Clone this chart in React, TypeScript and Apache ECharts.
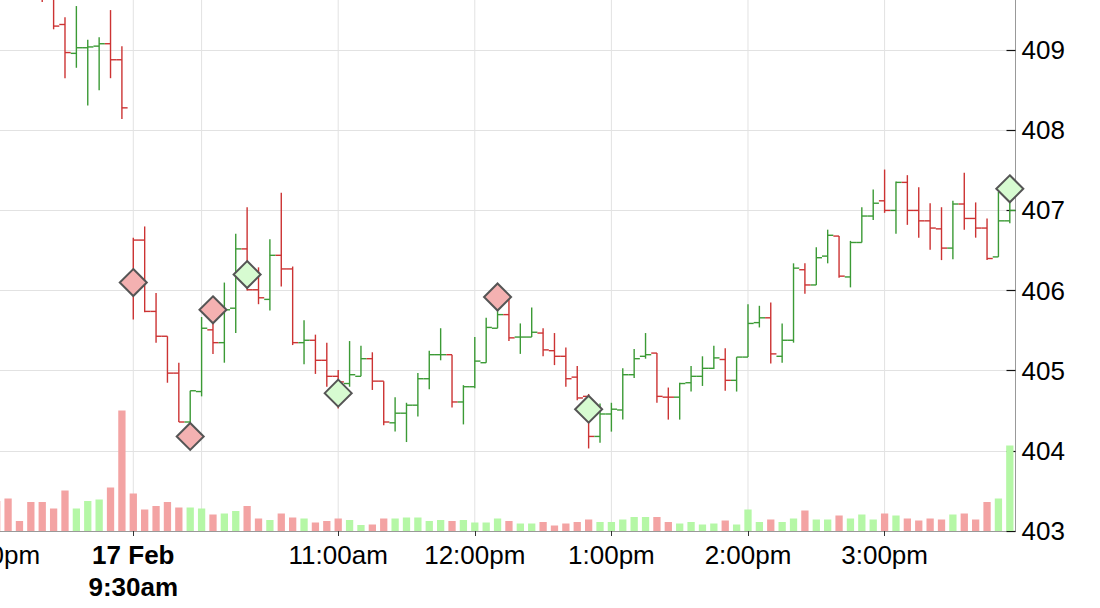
import React, { useEffect, useRef } from 'react';
import * as echarts from 'echarts';

// ---------- categories (5-minute bars) ----------
const prevDay = '16 Feb';
const today = '17 Feb';
const prevTimes = ['15:00', '15:05', '15:10', '15:15', '15:20', '15:25', '15:30', '15:35', '15:40', '15:45', '15:50', '15:55'];
const todayTimes = [
  '09:30', '09:35', '09:40', '09:45', '09:50', '09:55',
  '10:00', '10:05', '10:10', '10:15', '10:20', '10:25', '10:30', '10:35', '10:40', '10:45', '10:50', '10:55',
  '11:00', '11:05', '11:10', '11:15', '11:20', '11:25', '11:30', '11:35', '11:40', '11:45', '11:50', '11:55',
  '12:00', '12:05', '12:10', '12:15', '12:20', '12:25', '12:30', '12:35', '12:40', '12:45', '12:50', '12:55',
  '13:00', '13:05', '13:10', '13:15', '13:20', '13:25', '13:30', '13:35', '13:40', '13:45', '13:50', '13:55',
  '14:00', '14:05', '14:10', '14:15', '14:20', '14:25', '14:30', '14:35', '14:40', '14:45', '14:50', '14:55',
  '15:00', '15:05', '15:10', '15:15', '15:20', '15:25', '15:30', '15:35', '15:40', '15:45', '15:50', '15:55',
];

// ---------- OHLC values ----------
const opens = [
  410.10, 409.95, 409.80, 409.76, 409.72, 409.66, 409.32, 408.96, 409.03, 409.05, 409.08, 408.88,
  406.10, 406.63, 405.74, 405.43, 404.97, 404.36, 404.74, 405.51, 405.35, 405.78, 406.52, 406.01,
  405.89, 406.44, 406.27, 405.35, 405.38, 405.13, 404.93, 404.84, 404.93, 405.15, 404.87, 404.35,
  404.47, 404.57, 404.90, 405.20, 405.20, 404.61, 404.80, 405.10, 405.53, 405.70, 405.42, 405.42,
  405.47, 405.25, 405.18, 404.92, 404.68, 404.18, 404.46, 404.51, 404.95, 405.18, 405.22, 404.67,
  404.67, 404.85, 404.93, 405.03, 405.14, 404.88, 405.17, 405.60, 405.66, 405.18, 405.38, 406.26,
  406.07, 406.43, 406.68, 406.17, 406.60, 406.93, 407.12, 407.00, 407.35, 407.00, 406.87, 406.77,
  406.53, 407.08, 406.90, 406.78, 406.42, 406.87,
];
const highs = [
  410.30, 410.05, 409.92, 409.95, 409.98, 409.75, 409.41, 409.55, 409.13, 409.16, 409.50, 409.05,
  406.66, 406.80, 405.97, 405.43, 405.10, 404.75, 405.67, 405.75, 406.10, 406.71, 407.04, 406.29,
  406.64, 407.22, 406.30, 405.63, 405.45, 405.35, 405.01, 405.37, 405.31, 405.23, 404.87, 404.67,
  404.60, 404.97, 405.25, 405.53, 405.20, 404.82, 405.42, 405.66, 405.80, 405.92, 405.59, 405.79,
  405.53, 405.47, 405.29, 405.06, 404.71, 404.59, 404.60, 405.03, 405.27, 405.47, 405.22, 404.79,
  404.85, 405.06, 405.18, 405.31, 405.28, 405.17, 405.83, 405.81, 405.85, 405.59, 406.34, 406.34,
  406.54, 406.76, 406.68, 406.62, 407.04, 407.26, 407.51, 407.36, 407.44, 407.29, 407.09, 407.04,
  407.12, 407.47, 407.10, 406.90, 407.23, 407.30,
];
const lows = [
  409.85, 409.72, 409.68, 409.65, 409.60, 409.26, 408.65, 408.78, 408.31, 408.50, 408.65, 408.14,
  405.64, 405.73, 405.35, 404.85, 404.36, 404.20, 404.68, 405.21, 405.10, 405.47, 406.00, 405.83,
  405.75, 406.05, 405.32, 405.08, 404.96, 404.80, 404.53, 404.80, 404.93, 404.76, 404.32, 404.24,
  404.11, 404.43, 404.77, 405.13, 404.54, 404.33, 404.78, 405.10, 405.53, 405.37, 405.21, 405.42,
  405.18, 405.07, 404.80, 404.63, 404.03, 404.10, 404.24, 404.39, 404.91, 405.15, 404.60, 404.39,
  404.39, 404.74, 404.81, 405.02, 404.75, 404.74, 405.17, 405.54, 405.09, 405.10, 405.35, 405.96,
  406.07, 406.34, 406.16, 406.04, 406.60, 406.88, 406.97, 406.71, 406.82, 406.66, 406.51, 406.38,
  406.39, 406.76, 406.66, 406.38, 406.42, 406.84,
];
const closes = [
  409.95, 409.80, 409.76, 409.72, 409.66, 409.30, 408.97, 409.03, 409.04, 409.08, 408.88, 408.28,
  406.63, 405.74, 405.43, 404.97, 404.36, 404.75, 405.53, 405.35, 405.76, 406.52, 406.01, 405.91,
  406.44, 406.27, 405.35, 405.38, 405.13, 404.93, 404.86, 404.95, 405.15, 404.87, 404.36, 404.47,
  404.57, 404.90, 405.20, 405.20, 404.61, 404.80, 405.12, 405.54, 405.70, 405.41, 405.42, 405.48,
  405.26, 405.18, 404.90, 404.66, 404.18, 404.46, 404.52, 404.95, 405.15, 405.20, 404.68, 404.67,
  404.84, 404.93, 405.03, 405.16, 404.88, 405.17, 405.59, 405.66, 405.21, 405.38, 406.28, 406.07,
  406.41, 406.69, 406.18, 406.60, 406.93, 407.09, 407.00, 407.35, 407.00, 406.87, 406.78, 406.53,
  407.08, 406.90, 406.78, 406.40, 406.87, 407.00,
];
// volume (thousands)
const volumes = [
  60, 65, 20, 58, 58, 45, 81, 45, 60, 63, 87, 241,
  75, 43, 50, 58, 47, 47, 45, 33, 35, 40, 50, 25,
  22, 35, 27, 25, 17, 20, 25, 22, 12, 13, 25, 25,
  27, 27, 20, 22, 20, 22, 17, 17, 25, 20, 15, 15,
  18, 11, 15, 18, 23, 18, 18, 23, 28, 28, 28, 18,
  15, 18, 13, 15, 21, 13, 43, 18, 23, 18, 25, 41,
  23, 23, 31, 25, 33, 23, 35, 31, 25, 21, 25, 23,
  33, 35, 23, 58, 65, 171,
];

// ---------- signal markers ----------
const signalCats = ['17 Feb 09:30', '17 Feb 09:55', '17 Feb 10:05', '17 Feb 10:20', '17 Feb 11:00', '17 Feb 12:10', '17 Feb 12:50', '17 Feb 15:55'];
const signalValues = [406.10, 404.18, 405.76, 406.20, 404.72, 405.92, 404.52, 407.27];
const signalKinds = ['sell', 'sell', 'sell', 'buy', 'buy', 'sell', 'buy', 'buy'];

// ---------- axis labels / grid lines ----------
const labelCats = ['16 Feb 15:00', '17 Feb 09:30', '17 Feb 11:00', '17 Feb 12:00', '17 Feb 13:00', '17 Feb 14:00', '17 Feb 15:00'];
const labelTexts = ['3:00pm', '17 Feb\n9:30am', '11:00am', '12:00pm', '1:00pm', '2:00pm', '3:00pm'];
const gridCats = ['16 Feb 15:00', '17 Feb 09:30', '17 Feb 10:00', '17 Feb 11:00', '17 Feb 12:00', '17 Feb 13:00', '17 Feb 14:00', '17 Feb 15:00'];
const priceTicks = [403, 404, 405, 406, 407, 408, 409, 410];

const FONT = '"Liberation Sans", Arial, Helvetica, sans-serif';
const RED = '#cc3333';
const GREEN = '#3b9a35';
const VOL_RED = '#f3a3a3';
const VOL_GREEN = '#b5f7a6';
const GRID = '#e2e2e2';

const categories = [
  ...prevTimes.map((t) => `${prevDay} ${t}`),
  ...todayTimes.map((t) => `${today} ${t}`),
];

const upFlags = closes.map((c, i) => (i === 0 ? c >= opens[0] : c >= closes[i - 1]));

export default function App() {
  const ref = useRef<HTMLDivElement>(null);

  useEffect(() => {
    if (!ref.current) return;
    const chart = echarts.init(ref.current, undefined, { renderer: 'svg' });

    const ohlcData = categories.map((_, i) => [i, opens[i], highs[i], lows[i], closes[i], upFlags[i] ? 1 : 0]);
    const gridData = gridCats.map((c) => [categories.indexOf(c), 403]);

    const gridLeft = -9;
    const gridWidth = 1024.5;

    chart.setOption({
      animation: false,
      backgroundColor: '#ffffff',
      grid: [
        { left: gridLeft, width: gridWidth, top: -30, bottom: 77, containLabel: false, outerBoundsMode: 'none' },
        { left: gridLeft, width: gridWidth, bottom: 77, height: 200, containLabel: false, outerBoundsMode: 'none' },
      ],
      xAxis: [
        {
          type: 'category',
          gridIndex: 0,
          data: categories,
          boundaryGap: true,
          axisLine: { show: true, lineStyle: { color: '#999', width: 1 } },
          axisTick: {
            show: true,
            alignWithLabel: true,
            length: 5,
            interval: (_i: number, v: string) => labelCats.includes(v),
            lineStyle: { color: '#333' },
          },
          axisLabel: {
            interval: (_i: number, v: string) => labelCats.includes(v),
            margin: 11,
            color: '#000',
            fontFamily: FONT,
            fontSize: 26,
            formatter: (v: string) => {
              const i = labelCats.indexOf(v);
              if (i < 0) return '';
              const t = labelTexts[i];
              if (t.indexOf('\n') >= 0) {
                const [a, b] = t.split('\n');
                return `{a|${a}}\n{b|${b}}`;
              }
              return t;
            },
            rich: {
              a: { fontFamily: FONT, fontSize: 26, fontWeight: 'bold', color: '#000', lineHeight: 26 },
              b: { fontFamily: FONT, fontSize: 26, fontWeight: 'bold', color: '#000', lineHeight: 38 },
            },
          },
          splitLine: { show: false },
        },
        {
          type: 'category',
          gridIndex: 1,
          data: categories,
          boundaryGap: true,
          show: false,
        },
      ],
      yAxis: [
        {
          type: 'value',
          gridIndex: 0,
          position: 'right',
          min: priceTicks[0],
          max: priceTicks[priceTicks.length - 1],
          interval: 1,
          axisLine: { show: true, lineStyle: { color: '#999', width: 1 } },
          axisTick: { show: true, inside: true, length: 9, lineStyle: { color: '#111', width: 1.2 } },
          axisLabel: {
            color: '#000',
            fontFamily: FONT,
            fontSize: 26,
            margin: 6,
            showMaxLabel: false,
          },
          splitLine: { show: true, lineStyle: { color: GRID, width: 1 } },
        },
        {
          type: 'value',
          gridIndex: 1,
          min: 0,
          max: 400,
          show: false,
        },
      ],
      series: [
        {
          type: 'custom',
          name: 'vgrid',
          xAxisIndex: 0,
          yAxisIndex: 0,
          silent: true,
          z: 1,
          data: gridData,
          encode: { x: 0, y: 1 },
          renderItem: (params: any, api: any) => {
            const x = api.coord([api.value(0), 403])[0];
            const cs = params.coordSys;
            return {
              type: 'line',
              shape: { x1: x, y1: cs.y, x2: x, y2: cs.y + cs.height },
              style: { stroke: GRID, lineWidth: 1 },
            };
          },
        },
        {
          type: 'bar',
          name: 'Volume',
          xAxisIndex: 1,
          yAxisIndex: 1,
          silent: true,
          barWidth: 7.3,
          z: 2,
          data: volumes.map((v, i) => ({ value: v, itemStyle: { color: upFlags[i] ? VOL_GREEN : VOL_RED } })),
        },
        {
          type: 'custom',
          name: 'OHLC',
          xAxisIndex: 0,
          yAxisIndex: 0,
          silent: true,
          clip: true,
          z: 3,
          data: ohlcData,
          encode: { x: 0, y: [1, 2, 3, 4] },
          renderItem: (_params: any, api: any) => {
            const idx = api.value(0);
            const o = api.coord([idx, api.value(1)]);
            const h = api.coord([idx, api.value(2)]);
            const l = api.coord([idx, api.value(3)]);
            const c = api.coord([idx, api.value(4)]);
            const half = api.size([1, 0])[0] / 2;
            const color = api.value(5) ? GREEN : RED;
            const style = { stroke: color, lineWidth: 1.4 };
            return {
              type: 'group',
              children: [
                { type: 'line', shape: { x1: h[0], y1: h[1], x2: l[0], y2: l[1] }, style },
                { type: 'line', shape: { x1: o[0] - half, y1: o[1], x2: o[0], y2: o[1] }, style },
                { type: 'line', shape: { x1: c[0], y1: c[1], x2: c[0] + half, y2: c[1] }, style },
              ],
            };
          },
        },
        {
          type: 'scatter',
          name: 'Signals',
          xAxisIndex: 0,
          yAxisIndex: 0,
          silent: true,
          z: 4,
          symbol: 'diamond',
          symbolSize: [27, 27],
          data: signalCats.map((c, i) => ({
            value: [c, signalValues[i]],
            itemStyle: {
              color: signalKinds[i] === 'buy' ? '#d7fbd1' : '#f4b1b1',
              borderColor: '#555',
              borderWidth: 2,
              opacity: 1,
            },
          })),
        },
      ],
    });

    return () => chart.dispose();
  }, []);

  return (
    <div
      ref={ref}
      style={{ position: 'fixed', left: 0, top: 0, width: 1100, height: 608, background: '#fff' }}
    />
  );
}
